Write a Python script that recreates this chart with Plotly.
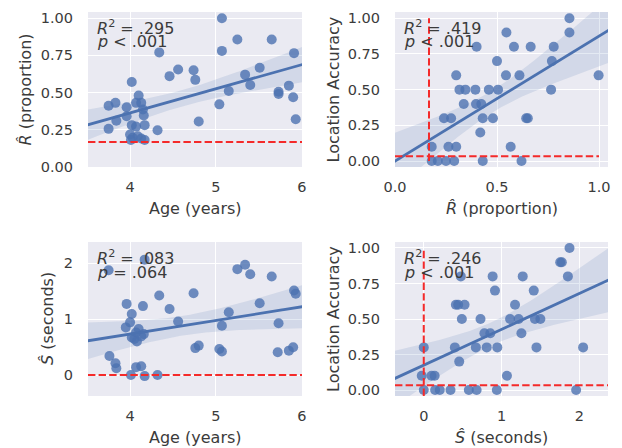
import numpy as np
import plotly.graph_objects as go
from plotly.subplots import make_subplots

# ---------------- data ----------------
age_r = [3.75, 3.83, 3.75, 3.84, 3.96, 3.96, 4.02, 4.10, 4.07, 4.13, 4.15, 4.16, 4.02, 4.07, 4.17,
         4.00, 4.03, 4.09, 4.13, 4.17, 4.01, 4.34, 4.32, 4.46, 4.56, 4.74, 4.76, 4.80, 5.04, 5.07,
         5.07, 5.15, 5.25, 5.34, 5.40, 5.51, 5.65, 5.73, 5.73, 5.85, 5.90, 5.91, 5.93]
r_hat = [0.41, 0.43, 0.255, 0.31, 0.40, 0.34, 0.57, 0.48, 0.43, 0.43, 0.385, 0.345, 0.28, 0.27, 0.28,
         0.217, 0.195, 0.205, 0.19, 0.18, 0.18, 0.77, 0.245, 0.61, 0.655, 0.65, 0.585, 0.305, 0.42, 1.0,
         0.78, 0.51, 0.857, 0.62, 0.55, 0.667, 0.857, 0.505, 0.49, 0.546, 0.468, 0.765, 0.32]

r_loc = [0.855, 0.855, 0.546, 0.40, 0.583, 0.665, 0.778, 0.769, 0.50, 0.30, 0.544, 0.61, 0.998,
         0.316, 0.345, 0.394, 0.46, 0.505, 0.765, 0.337, 0.397, 0.423, 0.24, 0.275, 0.43, 0.48,
         0.643, 0.651, 0.418, 0.18, 0.262, 0.30, 0.567, 0.18, 0.21, 0.25, 0.29, 0.43, 0.62]
loc_r = [1.0, 0.9, 0.9, 0.8, 0.8, 0.8, 0.8, 0.7, 0.7, 0.6, 0.6, 0.6, 0.6, 0.5, 0.5, 0.5, 0.5, 0.5,
         0.5, 0.4, 0.4, 0.4, 0.3, 0.3, 0.3, 0.3, 0.3, 0.3, 0.2, 0.1, 0.1, 0.1, 0.1, 0.0, 0.0, 0.0,
         0.0, 0.0, 0.0]

age_s = [3.75, 3.76, 3.83, 3.84, 3.96, 4.02, 4.00, 3.95, 4.10, 4.07, 4.02, 4.05, 4.08, 4.13, 4.16,
         4.17, 4.15, 4.01, 4.07, 4.13, 4.17, 4.32, 4.34, 4.46, 4.56, 4.74, 4.76, 4.80, 5.04, 5.07,
         5.07, 5.15, 5.25, 5.34, 5.40, 5.51, 5.65, 5.73, 5.72, 5.85, 5.90, 5.91, 5.93]
s_hat = [1.87, 0.34, 0.21, 0.12, 1.27, 1.09, 0.94, 0.85, 0.82, 0.76, 0.67, 0.645, 0.60, 0.69, 0.73,
         2.06, 1.23, 0.0, 0.14, 0.155, -0.02, 0.0, 1.42, 1.18, 0.955, 1.46, 0.48, 0.525, 0.465, 0.42,
         0.88, 1.12, 1.89, 1.97, 1.80, 1.28, 1.76, 0.925, 0.405, 0.435, 0.495, 1.51, 1.45]

s_loc = [1.875, 1.755, 1.776, 0.477, 0.886, 1.273, 1.854, 0.916, 1.415, 0.413, 0.443, 0.525, 1.174,
         0.49, 0.73, 1.11, 1.22, 1.43, 1.50, 0.78, 0.856, 1.256, 0.0, 0.40, 0.67, 0.81, 0.946, 1.45,
         2.05, 0.456, -0.026, 0.10, 0.14, 1.07, 0.0, 0.146, 0.206, 0.344, 0.58, 0.68, 0.94, 1.96]
loc_s = [1.0, 0.9, 0.9, 0.8, 0.8, 0.8, 0.8, 0.7, 0.7, 0.6, 0.6, 0.6, 0.6, 0.5, 0.5, 0.5, 0.5, 0.5,
         0.5, 0.4, 0.4, 0.4, 0.3, 0.3, 0.3, 0.3, 0.3, 0.3, 0.3, 0.2, 0.1, 0.1, 0.1, 0.1, 0.0, 0.0,
         0.0, 0.0, 0.0, 0.0, 0.0, 0.0]

stats_text = [("<i>R</i><sup>2</sup> = .295", "<i>p</i> &lt; .001"),
              ("<i>R</i><sup>2</sup> = .419", "<i>p</i> &lt; .001"),
              ("<i>R</i><sup>2</sup> = .083", "<i>p</i> = .064"),
              ("<i>R</i><sup>2</sup> = .246", "<i>p</i> &lt; .001")]

chance_r = 1 / 6       # chance level of R-hat
chance_loc = 1 / 30    # chance level of location accuracy
zero_s = 0.0

x_titles = ["Age (years)", "<i>R\u0302</i> (proportion)", "Age (years)", "<i>S\u0302</i> (seconds)"]
y_titles = ["<i>R\u0302</i> (proportion)", "Location Accuracy", "<i>S\u0302</i> (seconds)", "Location Accuracy"]

# ---------------- style ----------------
W, H = 622, 448
OFF = 8  # page body margin shifts the figure by 8px
BLUE = "#4C72B0"
FONT = "DejaVu Sans"
TXT = "#3b3b3b"

# pixel geometry of the four panels in the screenshot: (left, right, top, bottom)
boxes = [(88, 302, 12, 167), (395, 608, 12, 167), (88, 302, 242, 396), (395, 608, 242, 396)]
boxes = [(l - OFF, r - OFF, t - OFF, b - OFF) for (l, r, t, b) in boxes]
xranges = [[3.51, 6.003], [0.0, 1.044], [3.51, 6.003], [-0.37, 2.37]]
yranges = [[-0.002, 1.042], [-0.042, 1.044], [-0.375, 2.375], [-0.042, 1.042]]
ytickvals = [[0, 0.25, 0.5, 0.75, 1.0], [0, 0.25, 0.5, 0.75, 1.0], [0, 1, 2], [0, 0.25, 0.5, 0.75, 1.0]]
yticktext = [["0.00", "0.25", "0.50", "0.75", "1.00"]] * 2 + [["0", "1", "2"]] + [["0.00", "0.25", "0.50", "0.75", "1.00"]]
xtickvals = [[4, 5, 6], [0.0, 0.5, 1.0], [4, 5, 6], [0, 1, 2]]
xticktext = [["4", "5", "6"], ["0.0", "0.5", "1.0"], ["4", "5", "6"], ["0", "1", "2"]]
ytitle_x = [25 - OFF, 333 - OFF, 47 - OFF, 333 - OFF]

fig = make_subplots(rows=2, cols=2)

datasets = [(age_r, r_hat), (r_loc, loc_r), (age_s, s_hat), (s_loc, loc_s)]
cells = [(1, 1), (1, 2), (2, 1), (2, 2)]


def fit_band(x, y, xr):
    x = np.asarray(x, float)
    y = np.asarray(y, float)
    n = len(x)
    b, a = np.polyfit(x, y, 1)
    grid = np.linspace(xr[0] - 0.05, xr[1] + 0.05, 120)
    yhat = a + b * grid
    resid = y - (a + b * x)
    s = np.sqrt(np.sum(resid ** 2) / (n - 2))
    sxx = np.sum((x - x.mean()) ** 2)
    se = s * np.sqrt(1 / n + (grid - x.mean()) ** 2 / sxx)
    t = 2.02
    return grid, yhat, yhat - t * se, yhat + t * se


for i, ((xs, ys), (r, c)) in enumerate(zip(datasets, cells)):
    grid, yhat, lo, hi = fit_band(xs, ys, xranges[i])
    fig.add_trace(go.Scatter(x=np.concatenate([grid, grid[::-1]]), y=np.concatenate([hi, lo[::-1]]),
                             fill="toself", fillcolor="rgba(76,114,176,0.15)", line=dict(width=0),
                             mode="lines", hoverinfo="skip", showlegend=False), row=r, col=c)
    fig.add_trace(go.Scatter(x=xs, y=ys, mode="markers",
                             marker=dict(color=BLUE, size=10, opacity=0.8, line=dict(width=0)),
                             showlegend=False), row=r, col=c)
    fig.add_trace(go.Scatter(x=grid, y=yhat, mode="lines", line=dict(color=BLUE, width=2.8),
                             showlegend=False), row=r, col=c)

DASH = "7.4px,3.2px"
red = dict(color="#F42A2A", width=2, dash=DASH)
# panel 1: chance level of R-hat
fig.add_trace(go.Scatter(x=xranges[0], y=[chance_r, chance_r], mode="lines", line=red, showlegend=False), row=1, col=1)
# panel 2: chance levels
fig.add_trace(go.Scatter(x=[0, 1], y=[chance_loc, chance_loc], mode="lines", line=red, showlegend=False), row=1, col=2)
fig.add_trace(go.Scatter(x=[chance_r, chance_r], y=[0, 1], mode="lines", line=red, showlegend=False), row=1, col=2)
# panel 3: zero line
fig.add_trace(go.Scatter(x=xranges[2], y=[zero_s, zero_s], mode="lines", line=red, showlegend=False), row=2, col=1)
# panel 4
fig.add_trace(go.Scatter(x=xranges[3], y=[chance_loc, chance_loc], mode="lines", line=red, showlegend=False), row=2, col=2)
fig.add_trace(go.Scatter(x=[zero_s, zero_s], y=[yranges[3][0], 1], mode="lines", line=red, showlegend=False), row=2, col=2)

axis_common = dict(showgrid=True, gridcolor="white", gridwidth=1.3, zeroline=False, showline=False,
                   ticks="", tickfont=dict(family=FONT, size=14.5, color=TXT), automargin=False)

for i in range(4):
    l, rr, t, b = boxes[i]
    xa = "xaxis" if i == 0 else f"xaxis{i + 1}"
    ya = "yaxis" if i == 0 else f"yaxis{i + 1}"
    fig.layout[xa].update(domain=[l / W, rr / W], range=xranges[i], tickvals=xtickvals[i],
                          ticktext=xticktext[i], ticklabelstandoff=9, **axis_common)
    fig.layout[ya].update(domain=[1 - b / H, 1 - t / H], range=yranges[i], tickvals=ytickvals[i],
                          ticktext=yticktext[i], ticklabelstandoff=14, **axis_common)
    # axis titles
    fig.add_annotation(x=(l + rr) / 2 / W, y=1 - (b + 41) / H, xref="paper", yref="paper",
                       text=x_titles[i], showarrow=False, xanchor="center", yanchor="middle",
                       font=dict(family=FONT, size=16, color=TXT))
    fig.add_annotation(x=ytitle_x[i] / W, y=1 - (t + b) / 2 / H, xref="paper", yref="paper",
                       text=y_titles[i], showarrow=False, textangle=-90, xanchor="center",
                       yanchor="middle", font=dict(family=FONT, size=16, color=TXT))
    # stats text
    fig.add_annotation(x=(l + 7) / W, y=1 - (t + 15) / H, xref="paper", yref="paper",
                       text=stats_text[i][0], showarrow=False, xanchor="left", yanchor="middle",
                       font=dict(family=FONT, size=16, color=TXT))
    fig.add_annotation(x=(l + 7) / W, y=1 - (t + 30) / H, xref="paper", yref="paper",
                       text=stats_text[i][1], showarrow=False, xanchor="left", yanchor="middle",
                       font=dict(family=FONT, size=16, color=TXT))

fig.update_layout(width=W, height=H, margin=dict(l=0, r=0, t=0, b=0),
                  paper_bgcolor="white", plot_bgcolor="#EAEAF2",
                  font=dict(family=FONT, color=TXT), showlegend=False)

fig.write_html("out.html")
